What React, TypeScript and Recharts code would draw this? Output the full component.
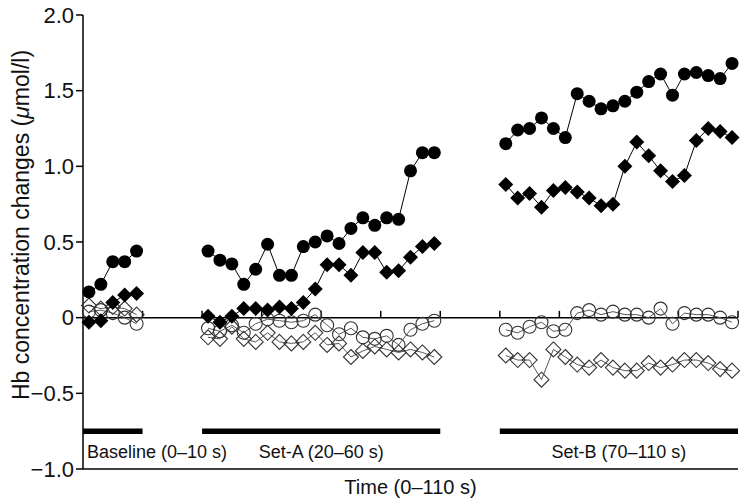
import React from "react";
import {
  LineChart, Line, XAxis, YAxis, ReferenceLine,
} from "recharts";

// time points (s)
const baselineTime = [1, 3, 5, 7, 9];
const setATime = [21, 23, 25, 27, 29, 31, 33, 35, 37, 39, 41, 43, 45, 47, 49, 51, 53, 55, 57, 59];
const setBTime = [71, 73, 75, 77, 79, 81, 83, 85, 87, 89, 91, 93, 95, 97, 99, 101, 103, 105, 107, 109];
const gapTime = [15, 65];

// filled circles
const baselineFC = [0.17, 0.22, 0.37, 0.37, 0.44];
const setAFC = [0.44, 0.38, 0.355, 0.22, 0.32, 0.485, 0.28, 0.28, 0.47, 0.5, 0.54, 0.49, 0.59, 0.66, 0.61, 0.66, 0.65, 0.97, 1.09, 1.09];
const setBFC = [1.15, 1.24, 1.25, 1.32, 1.25, 1.19, 1.48, 1.43, 1.38, 1.4, 1.43, 1.49, 1.56, 1.61, 1.47, 1.61, 1.62, 1.6, 1.58, 1.68];

// filled diamonds
const baselineFD = [-0.03, -0.02, 0.1, 0.15, 0.16];
const setAFD = [0.01, -0.03, 0.01, 0.06, 0.06, 0.05, 0.07, 0.06, 0.1, 0.19, 0.35, 0.35, 0.28, 0.43, 0.43, 0.3, 0.31, 0.4, 0.47, 0.49];
const setBFD = [0.88, 0.79, 0.82, 0.73, 0.84, 0.86, 0.83, 0.79, 0.74, 0.75, 1.0, 1.16, 1.07, 0.97, 0.9, 0.94, 1.17, 1.25, 1.23, 1.19];

// open circles
const baselineOC = [0.04, 0.05, 0.03, 0.0, -0.04];
const setAOC = [-0.07, -0.09, -0.05, -0.1, -0.04, -0.01, -0.02, -0.03, -0.02, 0.02, -0.05, -0.11, -0.07, -0.13, -0.14, -0.12, -0.18, -0.08, -0.04, -0.02];
const setBOC = [-0.08, -0.1, -0.06, -0.03, -0.09, -0.08, 0.03, 0.05, 0.02, 0.04, 0.02, 0.02, 0.0, 0.06, -0.04, 0.03, 0.02, 0.02, 0.0, -0.03];

// open diamonds
const baselineOD = [0.08, 0.06, 0.07, 0.06, 0.02];
const setAOD = [-0.13, -0.14, -0.06, -0.14, -0.16, -0.1, -0.16, -0.17, -0.16, -0.1, -0.18, -0.17, -0.26, -0.22, -0.19, -0.21, -0.23, -0.21, -0.23, -0.26];
const setBOD = [-0.25, -0.28, -0.28, -0.41, -0.21, -0.26, -0.31, -0.33, -0.28, -0.33, -0.35, -0.35, -0.3, -0.33, -0.31, -0.28, -0.28, -0.3, -0.34, -0.35];

const yTicks = [-1, -0.5, 0, 0.5, 1, 1.5, 2];
const zeroTicks = [10, 20, 30, 40, 50, 60, 70, 80, 90, 100, 110];

const periods = [
  { label: "Baseline (0\u201310 s)", from: 0, to: 10, anchor: "start" },
  { label: "Set-A (20\u201360 s)", from: 20, to: 60, anchor: "middle" },
  { label: "Set-B (70\u2013110 s)", from: 70, to: 110, anchor: "middle" },
];
const periodBarY = -0.75;

const FONT = "'Liberation Sans', Arial, Helvetica, sans-serif";

type Row = { t: number; fc: number | null; fd: number | null; oc: number | null; od: number | null };

const segRows = (time: number[], fc: number[], fd: number[], oc: number[], od: number[]): Row[] =>
  time.map((t, i) => ({ t, fc: fc[i], fd: fd[i], oc: oc[i], od: od[i] }));

const gapRow = (t: number): Row => ({ t, fc: null, fd: null, oc: null, od: null });

const data: Row[] = [
  ...segRows(baselineTime, baselineFC, baselineFD, baselineOC, baselineOD),
  gapRow(gapTime[0]),
  ...segRows(setATime, setAFC, setAFD, setAOC, setAOD),
  gapRow(gapTime[1]),
  ...segRows(setBTime, setBFC, setBFD, setBOC, setBOD),
];

const dotShape = (kind: "fc" | "fd" | "oc" | "od") => (props: any) => {
  const { cx, cy, index } = props;
  if (cx == null || cy == null || props.value == null) return <g key={`${kind}-${index}`} />;
  if (kind === "fc") return <circle key={`${kind}-${index}`} cx={cx} cy={cy} r={6.5} fill="#000" />;
  if (kind === "oc")
    return <circle key={`${kind}-${index}`} cx={cx} cy={cy} r={6.5} fill="none" stroke="#333" strokeWidth={1.1} />;
  const s = 7.5;
  const pts = `${cx},${cy - s} ${cx + s},${cy} ${cx},${cy + s} ${cx - s},${cy}`;
  if (kind === "fd") return <polygon key={`${kind}-${index}`} points={pts} fill="#000" />;
  return <polygon key={`${kind}-${index}`} points={pts} fill="none" stroke="#333" strokeWidth={1.1} />;
};

const fmtY = (v: number) => (v === 0 ? "0" : (v < 0 ? "\u2212" : "") + Math.abs(v).toFixed(1));

const YLabel = (props: any) => {
  const vb = props.viewBox || { x: 0, y: 15, width: 83, height: 454 };
  const cx = 21;
  const cy = vb.y + vb.height / 2 - 17;
  return (
    <text x={cx} y={cy} transform={`rotate(-90, ${cx}, ${cy})`} textAnchor="middle" dominantBaseline="central"
      fontFamily={FONT} fontSize={23} fill="#111">
      Hb concentration changes (<tspan fontStyle="italic">{"\u03bc"}</tspan>mol/l)
    </text>
  );
};

const XLabel = (props: any) => {
  const vb = props.viewBox || { x: 83, y: 469, width: 655, height: 32 };
  return (
    <text x={vb.x + vb.width / 2} y={vb.y + 25} textAnchor="middle" fontFamily={FONT} fontSize={20} fill="#111">
      Time (0{"\u2013"}110 s)
    </text>
  );
};

const periodLabel = (text: string, anchor: string) => (props: any) => {
  const vb = props.viewBox || { x: 0, y: 0, width: 0, height: 0 };
  const x = anchor === "start" ? vb.x + 4 : vb.x + vb.width / 2;
  return (
    <text x={x} y={vb.y + 27} textAnchor={anchor} fontFamily={FONT} fontSize={18} fill="#111">
      {text}
    </text>
  );
};

export default function App() {
  return (
    <div style={{ position: "absolute", left: 0, top: 0, width: 750, height: 501, background: "#fff" }}>
      <LineChart width={750} height={501} data={data} margin={{ top: 15, right: 12, left: 0, bottom: 0 }}>
        <XAxis
          dataKey="t" type="number" domain={[0, 110]} ticks={[0, 110]} tick={false} tickLine={false}
          axisLine={{ stroke: "#000", strokeWidth: 1.5 }} height={32} label={{ content: XLabel }}
        />
        <YAxis
          type="number" domain={[-1, 2]} ticks={yTicks} tickFormatter={fmtY} width={83}
          tick={{ fontSize: 22, fill: "#111", fontFamily: FONT }} tickSize={7}
          tickLine={{ stroke: "#000", strokeWidth: 1.5 }} axisLine={{ stroke: "#000", strokeWidth: 1.5 }}
          label={{ content: YLabel }}
        />
        <ReferenceLine y={0} stroke="#000" strokeWidth={1.5} />
        {zeroTicks.map((t) => (
          <ReferenceLine key={`zt-${t}`} segment={[{ x: t, y: 0 }, { x: t, y: 0.045 }]} stroke="#000" strokeWidth={1.5} />
        ))}
        {periods.map((p) => (
          <ReferenceLine
            key={p.label} segment={[{ x: p.from, y: periodBarY }, { x: p.to, y: periodBarY }]}
            stroke="#000" strokeWidth={5.5} label={{ content: periodLabel(p.label, p.anchor) }}
          />
        ))}
        <Line dataKey="od" stroke="#555" strokeWidth={1} dot={dotShape("od")} activeDot={false} isAnimationActive={false} />
        <Line dataKey="oc" stroke="#555" strokeWidth={1} dot={dotShape("oc")} activeDot={false} isAnimationActive={false} />
        <Line dataKey="fd" stroke="#000" strokeWidth={1} dot={dotShape("fd")} activeDot={false} isAnimationActive={false} />
        <Line dataKey="fc" stroke="#000" strokeWidth={1} dot={dotShape("fc")} activeDot={false} isAnimationActive={false} />
      </LineChart>
    </div>
  );
}
